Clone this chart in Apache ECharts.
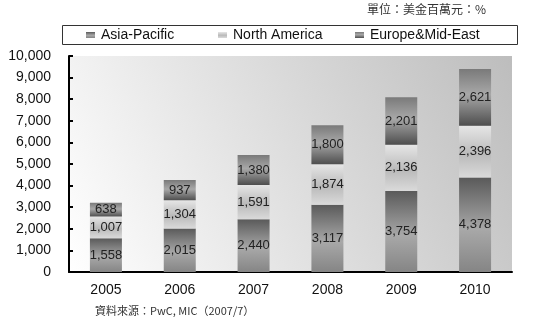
<!DOCTYPE html>
<html><head><meta charset="utf-8">
<script src="https://cdn.jsdelivr.net/npm/echarts@6/dist/echarts.min.js"></script>
<style>html,body{margin:0;padding:0;background:#fff}#c{width:541px;height:331px}</style>
</head><body><div id="c"></div>
<script>
var years = ['2005','2006','2007','2008','2009','2010'];
var asiaPacific = [1558, 2015, 2440, 3117, 3754, 4378];
var northAmerica = [1007, 1304, 1591, 1874, 2136, 2396];
var europeMidEast = [638, 937, 1380, 1800, 2201, 2621];
var seriesNames = ['Asia-Pacific', 'North America', 'Europe&Mid-East'];

var G = echarts.graphic.LinearGradient;
var asiaGrad = new G(0,0,0,1,[{offset:0,color:'#5a5a5a'},{offset:0.55,color:'#a8a8a8'},{offset:1,color:'#858585'}]);
var naGrad = new G(0,0,0,1,[{offset:0,color:'#e6e6e6'},{offset:0.55,color:'#bababa'},{offset:1,color:'#dadada'}]);
var euGrad = new G(0,0,0,1,[{offset:0,color:'#7a7a7a'},{offset:0.45,color:'#a8a8a8'},{offset:1,color:'#4e4e4e'}]);
var fmt = function(p){ return Number(p.value).toLocaleString('en-US'); };
var lbl = {show:true, position:'inside', color:'#222', fontFamily:'Liberation Sans', fontSize:13, formatter:fmt};

function legendAt(left, name){
  return {left:left, top:28, itemWidth:9, itemHeight:6, icon:'rect', data:[name],
    textStyle:{fontFamily:'Liberation Sans', fontSize:14, color:'#111', padding:[0,0,0,1]}, padding:0, selectedMode:false};
}
var chart = echarts.init(document.getElementById('c'), null, {renderer:'canvas'});
chart.setOption({
  animation:false,
  backgroundColor:'#fff',
  graphic:[
    {type:'rect', left:62, top:25, shape:{width:455, height:19}, style:{fill:'#fff', stroke:'#333', lineWidth:1}, z:-1},
    {type:'text', right:55, top:3, style:{text:'單位：美金百萬元：%', fontFamily:'Noto Sans CJK TC', fontSize:12, fill:'#333'}},
    {type:'text', left:95, top:305, style:{text:'資料來源：PwC, MIC（2007/7）', fontFamily:'Noto Sans CJK TC', fontSize:11, fill:'#333'}}
  ],
  legend:[legendAt(86, seriesNames[0]), legendAt(218, seriesNames[1]), legendAt(355, seriesNames[2])],
  grid:{left:69, right:29, top:56, bottom:59, show:true, borderWidth:0,
    backgroundColor:new G(0,1,1,0,[{offset:0,color:'#ffffff'},{offset:1,color:'#bdbdbd'}])},
  xAxis:{type:'category', data:years,
    axisLine:{lineStyle:{color:'#000', width:2}},
    axisTick:{inside:true, length:4, lineStyle:{color:'#000', width:2}},
    axisLabel:{fontFamily:'Liberation Sans', fontSize:14, color:'#111', margin:11}},
  yAxis:{type:'value', min:0, max:10000, interval:1000,
    axisLine:{show:true, lineStyle:{color:'#000', width:2}},
    axisTick:{show:true, inside:true, length:4, lineStyle:{color:'#000', width:2}},
    splitLine:{show:false},
    axisLabel:{fontFamily:'Liberation Sans', fontSize:14, color:'#111', margin:18,
      formatter:function(v){return Number(v).toLocaleString('en-US');}}},
  series:[
    {name:seriesNames[0], type:'bar', stack:'t', data:asiaPacific, barWidth:32, itemStyle:{color:asiaGrad}, label:lbl},
    {name:seriesNames[1], type:'bar', stack:'t', data:northAmerica, barWidth:32, itemStyle:{color:naGrad}, label:lbl},
    {name:seriesNames[2], type:'bar', stack:'t', data:europeMidEast, barWidth:32, itemStyle:{color:euGrad}, label:lbl}
  ]
});
</script></body></html>
